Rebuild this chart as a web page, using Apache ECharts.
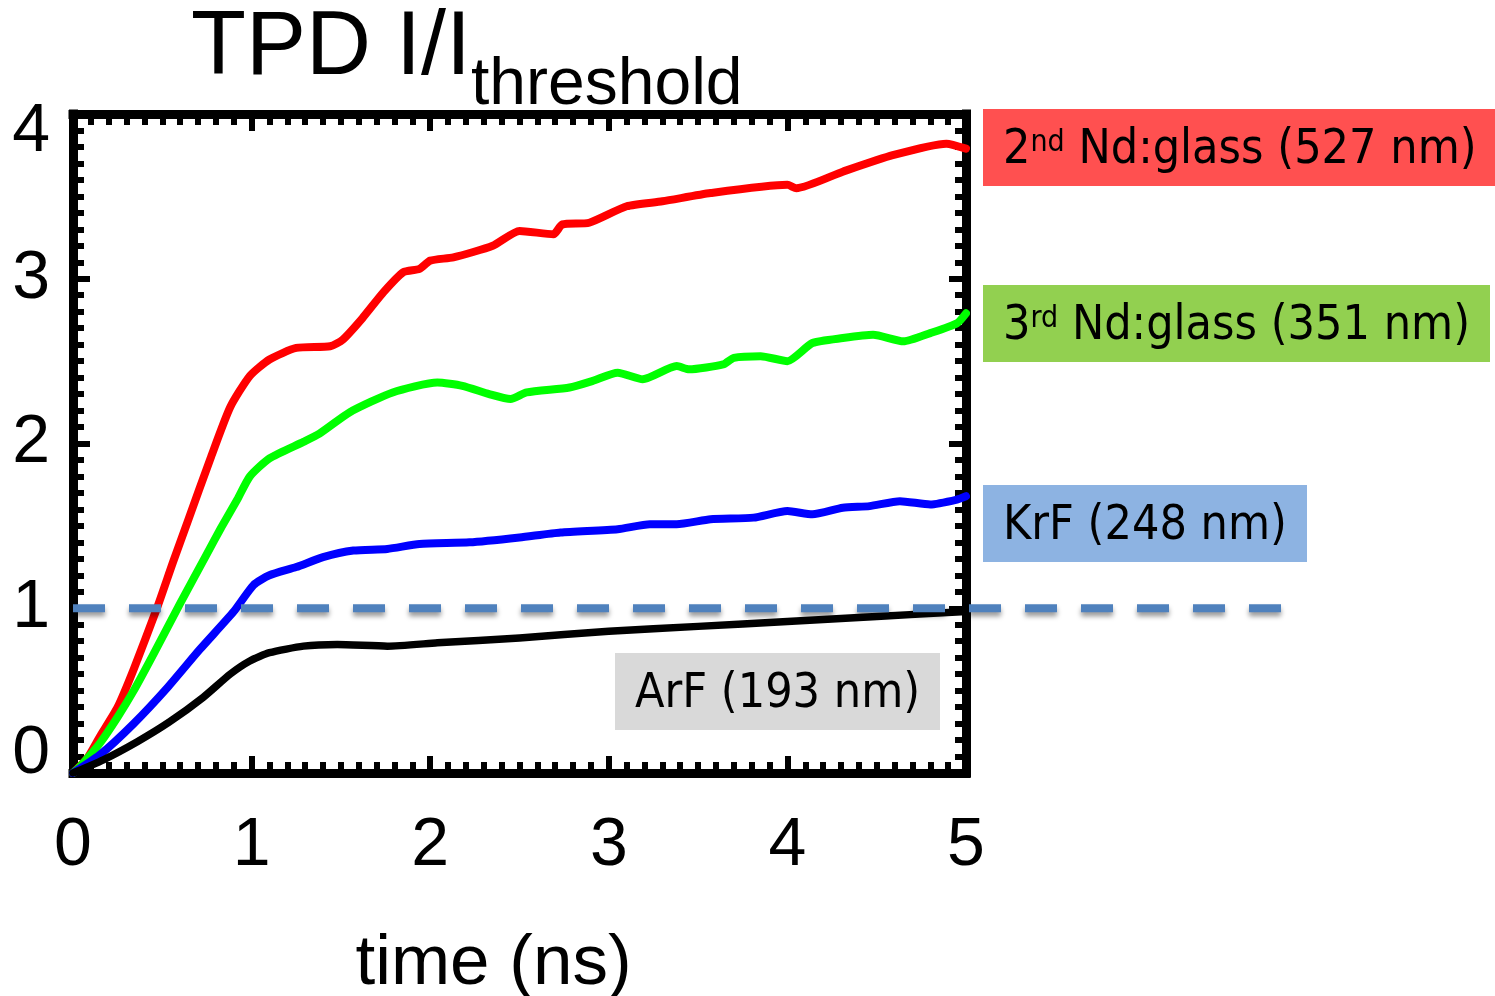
<!DOCTYPE html>
<html>
<head>
<meta charset="utf-8">
<title>TPD I/I threshold</title>
<script src="https://cdn.jsdelivr.net/npm/echarts@6/dist/echarts.min.js"></script>
<style>
  html, body { margin: 0; padding: 0; background: #ffffff; }
  #chart { width: 1495px; height: 996px; }
</style>
</head>
<body>
<div id="chart"></div>
<script>
// Time axis (ns) and normalised intensity I/I_threshold for each laser
const tRed   = [0, 0.08, 0.15, 0.25, 0.34, 0.47, 0.56, 0.64, 0.77, 0.88, 0.99, 1.10, 1.25, 1.44, 1.51, 1.62, 1.74, 1.85, 1.94, 2.00, 2.13, 2.35, 2.50, 2.69, 2.74, 2.89, 3.10, 3.30, 3.57, 4.00, 4.05, 4.31, 4.59, 4.89, 5.00];
const vRed   = [0, 0.09, 0.22, 0.40, 0.63, 1.00, 1.28, 1.52, 1.91, 2.22, 2.41, 2.51, 2.58, 2.59, 2.63, 2.76, 2.92, 3.04, 3.06, 3.11, 3.13, 3.20, 3.29, 3.27, 3.33, 3.34, 3.44, 3.47, 3.52, 3.57, 3.55, 3.65, 3.75, 3.82, 3.79];

const tGreen = [0, 0.04, 0.15, 0.25, 0.34, 0.45, 0.60, 0.75, 0.83, 0.92, 0.99, 1.10, 1.29, 1.38, 1.55, 1.79, 2.04, 2.18, 2.33, 2.45, 2.54, 2.78, 2.91, 3.05, 3.19, 3.38, 3.45, 3.64, 3.70, 3.85, 4.00, 4.14, 4.31, 4.48, 4.65, 4.80, 4.95, 5.00];
const vGreen = [0, 0.04, 0.18, 0.34, 0.50, 0.72, 1.03, 1.33, 1.49, 1.66, 1.80, 1.91, 2.01, 2.06, 2.19, 2.31, 2.37, 2.35, 2.30, 2.27, 2.31, 2.34, 2.38, 2.43, 2.39, 2.47, 2.45, 2.48, 2.52, 2.53, 2.50, 2.61, 2.64, 2.66, 2.62, 2.67, 2.73, 2.79];

const tBlue  = [0, 0.15, 0.34, 0.53, 0.71, 0.90, 1.01, 1.10, 1.25, 1.40, 1.57, 1.76, 1.94, 2.22, 2.50, 2.73, 3.05, 3.23, 3.38, 3.57, 3.81, 4.00, 4.14, 4.31, 4.46, 4.63, 4.80, 4.95, 5.00];
const vBlue  = [0, 0.11, 0.30, 0.52, 0.75, 0.98, 1.14, 1.20, 1.25, 1.31, 1.35, 1.36, 1.39, 1.40, 1.43, 1.46, 1.48, 1.51, 1.51, 1.54, 1.55, 1.59, 1.57, 1.61, 1.62, 1.65, 1.63, 1.66, 1.68];

const tBlack = [0, 0.17, 0.36, 0.54, 0.73, 0.88, 0.99, 1.10, 1.29, 1.48, 1.76, 2.04, 2.50, 3.00, 3.50, 4.00, 4.50, 5.00];
const vBlack = [0, 0.08, 0.19, 0.31, 0.46, 0.60, 0.68, 0.73, 0.77, 0.78, 0.77, 0.79, 0.82, 0.86, 0.89, 0.92, 0.95, 0.98];

// Threshold level drawn as a dashed reference line
const thresholdLevel = 1;

const xTicks = [0, 1, 2, 3, 4, 5];
const yTicks = [0, 1, 2, 3, 4];

const pairs = (t, v) => t.map((x, i) => [x, v[i]]);

const axisFont = 'Liberation Sans, Arial, Helvetica, sans-serif';
const boxFont = 'DejaVu Sans Condensed, DejaVu Sans, sans-serif';

const frameLine = { show: true, onZero: false, lineStyle: { color: '#000', width: 9, cap: 'square' } };
const majorTick = { show: true, inside: true, length: 17, lineStyle: { color: '#000', width: 6 } };
const minorTick = { show: true, splitNumber: 10, length: 11, lineStyle: { color: '#000', width: 6 } };

function xAxisDef(position, showLabels) {
  return {
    type: 'value', gridIndex: 0, position: position,
    min: xTicks[0], max: xTicks[xTicks.length - 1], interval: 1,
    axisLine: frameLine, axisTick: majorTick, minorTick: minorTick,
    splitLine: { show: false },
    axisLabel: { show: showLabels, color: '#000', fontFamily: axisFont, fontSize: 68, lineHeight: 68, margin: 39 }
  };
}
function yAxisDef(position, showLabels) {
  return {
    type: 'value', gridIndex: 0, position: position,
    min: yTicks[0], max: yTicks[yTicks.length - 1], interval: 1,
    axisLine: frameLine, axisTick: majorTick, minorTick: minorTick,
    splitLine: { show: false },
    axisLabel: {
      show: showLabels, color: '#000', fontFamily: axisFont, fontSize: 68, margin: 23,
      formatter: function (v) {
        if (v === yTicks[0]) return '{lo|' + v + '}';
        if (v === yTicks[yTicks.length - 1]) return '{hi|' + v + '}';
        return '{n|' + v + '}';
      },
      rich: {
        n:  { fontFamily: axisFont, fontSize: 68, lineHeight: 68, color: '#000' },
        lo: { fontFamily: axisFont, fontSize: 68, lineHeight: 68, color: '#000', padding: [0, 0, 38, 0] },
        hi: { fontFamily: axisFont, fontSize: 68, lineHeight: 68, color: '#000', padding: [36, 0, 0, 0] }
      }
    }
  };
}

function curve(name, t, v, color, width) {
  return {
    name: name, type: 'line', xAxisIndex: 0, yAxisIndex: 0,
    data: pairs(t, v), showSymbol: false, smooth: 0.2, z: 3,
    lineStyle: { color: color, width: width, cap: 'round', join: 'round' },
    silent: true
  };
}

// Label boxes naming each laser
function labelBox(x, y, w, h, fill, parts) {
  const supStyle = { fontFamily: boxFont, fontSize: 30, fill: '#000', padding: [0, 0, 14, 0] };
  const txtStyle = { fontFamily: boxFont, fontSize: 48, fill: '#000' };
  return {
    type: 'group',
    children: [
      { type: 'rect', shape: { x: x, y: y, width: w, height: h }, style: { fill: fill } },
      {
        type: 'text', x: x + 20, y: y + h / 2 + 3,
        style: {
          text: parts, verticalAlign: 'middle', align: 'left',
          fontFamily: boxFont, fontSize: 48, fill: '#000',
          rich: { t: txtStyle, s: supStyle }
        }
      }
    ]
  };
}

const chart = echarts.init(document.getElementById('chart'), null, { renderer: 'canvas' });

chart.setOption({
  animation: false,
  backgroundColor: '#ffffff',
  title: {
    left: 186, top: 24,
    text: '{a|TPD I/I}{b|threshold}',
    textStyle: {
      fontWeight: 'normal',
      rich: {
        a: { fontFamily: axisFont, fontSize: 90, lineHeight: 90, fontWeight: 'normal', color: '#000', verticalAlign: 'bottom', padding: [0, 0, 25, 0] },
        b: { fontFamily: axisFont, fontSize: 66, lineHeight: 66, fontWeight: 'normal', color: '#000', verticalAlign: 'bottom' }
      }
    }
  },
  grid: [
    { left: 73, right: 529, top: 114, bottom: 223, containLabel: false, outerBoundsMode: 'none' },
    { left: 73, right: 190, top: 114, bottom: 223, containLabel: false, outerBoundsMode: 'none' }
  ],
  xAxis: [
    Object.assign(xAxisDef('bottom', true), {
      name: 'time (ns)', nameLocation: 'middle', nameGap: 156,
      nameTextStyle: { fontFamily: axisFont, fontSize: 71, lineHeight: 71, color: '#000', padding: [0, 52, 0, 0] }
    }),
    xAxisDef('top', false),
    { type: 'value', gridIndex: 1, min: 0, max: 1, show: false }
  ],
  yAxis: [
    yAxisDef('left', true),
    yAxisDef('right', false),
    { type: 'value', gridIndex: 1, min: yTicks[0], max: yTicks[yTicks.length - 1], show: false }
  ],
  series: [
    curve('2nd Nd:glass (527 nm)', tRed, vRed, '#ff0000', 8),
    curve('3rd Nd:glass (351 nm)', tGreen, vGreen, '#00ff00', 8),
    curve('KrF (248 nm)', tBlue, vBlue, '#0000ff', 8),
    curve('ArF (193 nm)', tBlack, vBlack, '#000000', 7.5),
    {
      name: 'threshold', type: 'line', xAxisIndex: 2, yAxisIndex: 2,
      data: [[0, thresholdLevel], [1, thresholdLevel]],
      showSymbol: false, silent: true, z: 5,
      lineStyle: {
        color: '#4f81bd', width: 8, type: [32, 24], cap: 'butt',
        shadowColor: 'rgba(0,0,0,0.4)', shadowBlur: 5, shadowOffsetY: 4
      }
    }
  ],
  graphic: [
    labelBox(983, 109, 512, 77, '#ff5050', '{t|2}{s|nd}{t| Nd:glass (527 nm)}'),
    labelBox(983, 285, 507, 77, '#92d050', '{t|3}{s|rd}{t| Nd:glass (351 nm)}'),
    labelBox(983, 485, 324, 77, '#8db3e2', '{t|KrF (248 nm)}'),
    labelBox(615, 653, 325, 77, '#d9d9d9', '{t|ArF (193 nm)}')
  ]
});
</script>
</body>
</html>
